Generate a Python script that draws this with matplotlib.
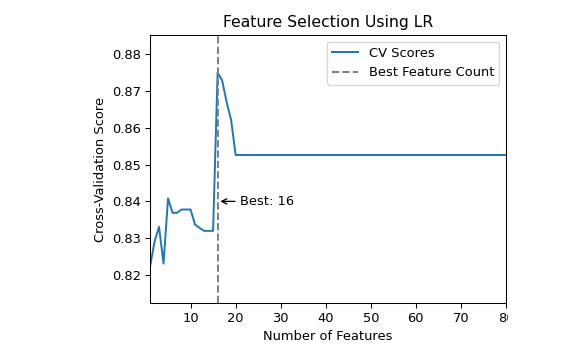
import numpy as np
import matplotlib
matplotlib.use("Agg")
import matplotlib.pyplot as plt
from matplotlib.patches import Rectangle

# cross-validation score per number of selected features
n_features = list(range(1, 81))
cv_head = [0.8222, 0.8290, 0.8331, 0.8231, 0.8408, 0.8369, 0.8369, 0.8378,
           0.8378, 0.8378, 0.8337, 0.8328, 0.8320, 0.8320, 0.8320, 0.8750,
           0.8729, 0.8670, 0.8621, 0.8526]
cv_scores = cv_head + [0.8526] * (80 - len(cv_head))
best_k = 16
y_ticks = [0.82, 0.83, 0.84, 0.85, 0.86, 0.87, 0.88]

DPI = 94
fig = plt.figure(figsize=(579 / DPI, 354 / DPI), dpi=DPI)
ax = fig.add_axes([150 / 579, 1 - 303 / 354, 356 / 579, 268 / 354])

ax.plot(n_features, cv_scores, color="#1f77b4", lw=1.5, label="CV Scores")
ax.axvline(best_k, color="gray", ls="--", lw=1.5, label="Best Feature Count")
ax.annotate(f"Best: {best_k}", xy=(best_k, 0.84), xytext=(best_k + 5, 0.84),
            va="center",
            arrowprops=dict(arrowstyle="->", color="black", lw=1))

ax.set_xlim(1, 80)
ax.set_ylim(0.8124, 0.8852)
ax.set_yticks(y_ticks)
ax.set_xticks(np.arange(10, 81, 10))
ax.set_title("Feature Selection Using LR", fontsize=12)
ax.set_xlabel("Number of Features")
ax.set_ylabel("Cross-Validation Score")
ax.legend(loc="upper right")

# the reference image is cut off just after the right edge of the axes
fig.patches.append(Rectangle((508 / 579, 0), 1, 1 - 305 / 354,
                             transform=fig.transFigure, color="white",
                             zorder=10))

fig.savefig("out.png", dpi=DPI)
